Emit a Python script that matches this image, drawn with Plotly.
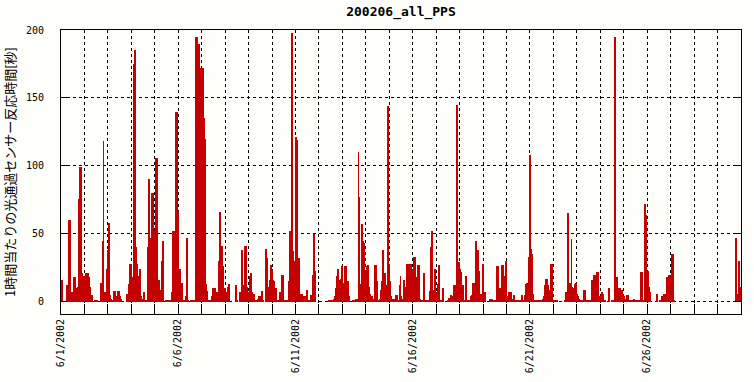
import plotly.graph_objects as go

# Hourly values (seconds per hour) for each day of June 2002
day01 = [4,16,0,0,0,0,12,6,60,60,0,7,7,18,18,8,10,11,76,99,99,21,10,19]
day02 = [5,21,21,21,18,11,5,5,0,0,1,1,1,0,0,0,14,6,45,118,0,7,0,24]
day03 = [38,58,5,2,1,0,8,8,2,4,8,8,4,2,0,0,0,0,0,6,6,13,28,28]
day04 = [14,18,175,185,40,28,2,19,24,4,2,0,7,0,1,1,1,40,90,47,40,80,80,53]
day05 = [53,106,106,0,16,9,9,30,45,0,0,1,1,1,1,1,1,7,52,52,22,140,140,67]
day06 = [15,24,0,14,1,1,1,4,47,1,1,0,0,1,1,1,1,1,195,195,190,190,172,172]
day07 = [172,172,135,120,13,8,1,1,1,1,4,10,10,10,1,7,7,30,66,27,41,26,10,10]
day08 = [7,1,11,13,0,0,0,0,0,0,0,12,1,0,0,7,7,38,12,12,41,41,11,6]
day09 = [7,19,21,7,5,6,1,1,1,2,4,4,1,8,1,0,0,39,32,11,7,16,27,24]
day10 = [6,16,15,7,10,1,1,1,7,6,20,20,1,1,1,1,1,15,52,52,198,37,30,22]
day11 = [121,119,32,32,6,6,6,4,4,1,4,9,1,1,1,5,1,20,50,23,15,0,0,0]
day12 = [0,0,0,0,0,0,0,0,0,0,1,1,1,1,1,2,4,10,19,24,16,15,17,26]
day13 = [7,14,26,26,0,15,4,0,0,0,1,1,0,2,2,2,110,77,13,13,57,45,43,22]
day14 = [16,26,27,11,6,4,4,2,1,27,27,15,0,1,2,9,15,38,12,21,12,12,144,28]
day15 = [15,4,1,2,0,2,5,5,1,0,12,19,4,0,2,16,4,11,28,28,6,28,28,24]
day16 = [24,33,33,18,18,27,27,2,1,1,1,21,1,1,1,1,1,8,40,52,6,9,24,7]
day17 = [7,13,27,1,1,1,10,0,0,0,0,0,1,3,1,5,1,4,12,12,12,145,29,29]
day18 = [24,22,7,12,1,1,19,1,1,1,1,4,5,14,6,14,45,34,38,23,4,6,2,28]
day19 = [4,7,1,0,0,0,0,2,2,2,1,0,1,0,26,26,10,9,10,27,27,4,19,30]
day20 = [2,4,7,7,7,2,1,5,1,1,1,1,1,1,1,5,1,1,5,13,14,0,1,33]
day21 = [108,39,35,6,1,1,1,1,1,1,1,1,1,2,4,12,17,17,12,5,9,28,28,1]
day22 = [1,1,1,1,0,0,0,0,0,0,0,1,7,1,65,1,14,1,46,11,10,1,13,14]
day23 = [6,4,2,1,1,1,1,9,9,1,1,1,1,1,1,16,16,20,20,2,22,22,2,4]
day24 = [4,7,6,1,1,0,0,0,10,0,0,1,1,0,0,195,18,18,4,10,10,9,9,4]
day25 = [4,2,2,5,5,1,1,1,1,1,2,1,1,1,1,1,1,22,22,1,1,72,64,23]
day26 = [23,11,7,0,0,0,0,0,0,0,6,0,0,1,1,4,4,6,6,3,18,3,20,20]
day27 = [11,35,35,1,0,0,0,0,0,0,0,0,0,0,0,0,0,0,0,0,0,0,0,0]
day28 = [0,0,0,0,0,0,0,0,0,0,0,0,0,0,0,0,0,0,0,0,0,0,0,0]
day29 = [0,0,0,0,0,0,0,0,0,0,0,0,0,0,0,0,0,0,47,0,6,30,11,10]

days = [day01, day02, day03, day04, day05, day06, day07, day08, day09, day10,
        day11, day12, day13, day14, day15, day16, day17, day18, day19, day20,
        day21, day22, day23, day24, day25, day26, day27, day28, day29]

day_tick_labels = ["6/1/2002", "", "", "", "", "6/6/2002", "", "", "", "",
                   "6/11/2002", "", "", "", "", "6/16/2002", "", "", "", "",
                   "6/21/2002", "", "", "", "", "6/26/2002", "", "", "", ""]
y_ticks = [0, 50, 100, 150, 200]

values = [v for d in days for v in d]
n_hours = len(values)
hours = [h + 0.5 for h in range(n_hours)]
tick_positions = [24 * i for i in range(len(day_tick_labels))]

BG = "#fefefa"
fig = go.Figure(go.Bar(x=hours, y=values, width=1.0,
                       marker=dict(color="#C40000", line=dict(width=0))))

fig.update_layout(
    width=754, height=382,
    margin=dict(l=61, r=13, t=30, b=68),
    paper_bgcolor=BG, plot_bgcolor=BG,
    showlegend=False, bargap=0,
    title=dict(text="200206_all_PPS", x=0.5, xref="paper", xanchor="center",
               y=1 - 11 / 382, yref="container", yanchor="middle",
               font=dict(family="DejaVu Sans Mono", size=13, color="black", weight="bold")),
)
fig.update_xaxes(
    range=[0, 24 * 29], tickmode="array", tickvals=tick_positions, ticktext=day_tick_labels,
    tickangle=-90, ticks="inside", ticklen=10, tickcolor="black", tickwidth=1,
    showgrid=True, gridcolor="black", griddash="dot", gridwidth=1,
    showline=True, linecolor="black", linewidth=1, mirror=True, zeroline=False,
    automargin=False,
    tickfont=dict(family="DejaVu Sans Mono", size=10, color="black"),
)
fig.update_yaxes(
    range=[-9, 200], tickmode="array", tickvals=y_ticks,
    ticks="inside", ticklen=6, tickcolor="black", tickwidth=1,
    showgrid=True, gridcolor="black", griddash="dot", gridwidth=1,
    showline=True, linecolor="black", linewidth=1, mirror="ticks", zeroline=False,
    ticklabelstandoff=14, automargin=False,
    tickfont=dict(family="DejaVu Sans Mono", size=10, color="black"),
    title=dict(text="1時間当たりの光通過センサー反応時間[秒]", standoff=8,
               font=dict(family="Noto Sans CJK JP", size=13, color="black")),
)
fig.write_html("out.html", config={"displayModeBar": False},
               post_script="document.body.style.margin='0';document.body.style.background='" + BG + "';")
